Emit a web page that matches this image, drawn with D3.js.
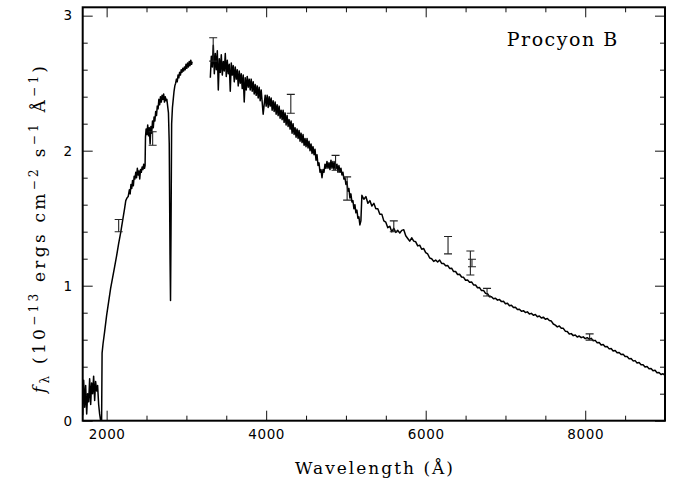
<!DOCTYPE html>
<html><head><meta charset="utf-8">
<script src="https://cdn.jsdelivr.net/npm/d3@7/dist/d3.min.js"></script>
<style>
html,body{margin:0;padding:0;background:#fff;}
svg{display:block;}
</style></head>
<body>
<svg id="chart" width="675" height="487"></svg>
<script>
// ---- data ----
// UV segment: [wavelength (Å), flux]
const uvSpectrum = [
[1700,0.04],[1712,0.30],[1725,0.10],[1737,0.26],[1750,0.05],[1762,0.20],[1775,0.14],[1787,0.31],
[1800,0.12],[1812,0.28],[1825,0.20],[1837,0.33],[1850,0.15],[1862,0.29],[1875,0.22],[1887,0.26],
[1900,0.12],[1912,0.05],[1925,0.00],[1937,0.00],[1943,0.50],[1955,0.57],[1975,0.66],[2000,0.78],
[2025,0.88],[2050,0.98],[2075,1.06],[2100,1.14],[2125,1.22],[2150,1.31],[2175,1.39],[2200,1.48],
[2225,1.57],[2240,1.63],[2255,1.65],[2270,1.66],[2285,1.71],[2295,1.68],[2305,1.75],[2315,1.72],
[2325,1.78],[2335,1.74],[2345,1.81],[2355,1.79],[2365,1.84],[2375,1.80],[2385,1.87],[2395,1.82],
[2405,1.85],[2415,1.79],[2425,1.86],[2435,1.84],[2445,1.88],[2455,1.86],[2465,1.90],[2475,1.87],
[2482,1.89],[2487,2.10],[2495,2.16],[2505,2.12],[2515,2.19],[2525,2.11],[2535,2.17],[2545,2.05],
[2555,2.18],[2565,2.13],[2575,2.22],[2585,2.17],[2595,2.25],[2605,2.22],[2615,2.29],[2625,2.26],
[2635,2.33],[2645,2.31],[2655,2.38],[2665,2.34],[2675,2.40],[2685,2.36],[2695,2.41],[2705,2.38],
[2715,2.42],[2725,2.36],[2735,2.40],[2745,2.37],[2755,2.38],[2765,2.33],[2775,2.28],[2785,2.05],
[2795,1.20],[2801,0.89],[2807,1.40],[2815,2.20],[2825,2.32],[2835,2.38],[2845,2.44],[2855,2.48],
[2865,2.50],[2875,2.53],[2885,2.51],[2895,2.56],[2905,2.54],[2915,2.58],[2925,2.56],[2935,2.60],
[2945,2.58],[2955,2.61],[2965,2.59],[2975,2.62],[2985,2.60],[2995,2.64],[3005,2.61],[3015,2.65],
[3025,2.62],[3035,2.66],[3045,2.63],[3055,2.67],[3065,2.64],[3072,2.66]
];
// Noisy blue/visual segment, sampled every 12.5 Å from 3300 to 5200 Å (one row = 100 Å)
const blueStart = 3300, blueStep = 12.5;
const blueFlux = [
2.54,2.70,2.62,2.78,2.57,2.72,2.60,2.74,
2.45,2.68,2.58,2.71,2.56,2.66,2.59,2.72,
2.55,2.67,2.57,2.64,2.44,2.65,2.56,2.63,
2.51,2.62,2.53,2.60,2.48,2.59,2.50,2.57,
2.46,2.56,2.36,2.54,2.45,2.55,2.47,2.53,
2.45,2.53,2.44,2.51,2.42,2.49,2.41,2.48,
2.39,2.47,2.37,2.45,2.36,2.27,2.34,2.41,
2.33,2.41,2.32,2.40,2.33,2.39,2.30,2.37,
2.29,2.36,2.27,2.34,2.26,2.33,2.24,2.30,
2.23,2.30,2.21,2.28,2.19,2.26,2.18,2.23,
2.16,2.22,2.13,2.20,2.12,2.17,2.10,2.16,
2.09,2.15,2.07,2.13,2.06,2.12,2.04,2.09,
2.03,2.09,2.02,2.07,2.00,2.05,1.98,2.03,
1.97,2.01,1.93,1.97,1.89,1.91,1.84,1.86,
1.80,1.86,1.84,1.90,1.87,1.92,1.87,1.91,
1.86,1.93,1.87,1.92,1.86,1.92,1.87,1.90,
1.84,1.89,1.84,1.87,1.82,1.84,1.79,1.80,
1.75,1.77,1.70,1.72,1.65,1.68,1.62,1.63,
1.57,1.60,1.54,1.56,1.50,1.51,1.45,1.48,
1.67
];
// Red segment: [wavelength (Å), flux]
const redSpectrum = [
[5225,1.64],[5250,1.66],[5275,1.61],
[5300,1.63],[5325,1.59],[5350,1.61],[5375,1.57],[5400,1.57],[5425,1.53],[5450,1.53],[5475,1.48],
[5500,1.47],[5525,1.43],[5550,1.44],[5575,1.40],[5600,1.425],[5625,1.395],[5650,1.41],[5675,1.39],
[5700,1.41],[5725,1.415],[5750,1.37],[5775,1.35],[5800,1.33],[5825,1.355],[5850,1.33],[5875,1.325],
[5900,1.295],[5925,1.30],[5950,1.27],[5975,1.275],[6000,1.245],[6025,1.235],[6050,1.205],[6075,1.20],
[6100,1.18],[6125,1.19],[6150,1.175],[6175,1.19],[6200,1.165],[6225,1.165],[6250,1.148],[6275,1.15],
[6300,1.128],[6325,1.13],[6350,1.105],[6375,1.105],[6400,1.083],[6425,1.085],[6450,1.064],[6475,1.062],
[6500,1.04],[6525,1.042],[6550,1.025],[6575,1.028],[6600,1.006],[6625,1.005],[6650,0.985],[6675,0.986],
[6700,0.964],[6725,0.965],[6750,0.943],[6775,0.94],[6800,0.918],[6825,0.918],[6850,0.903],[6875,0.907],
[6900,0.893],[6925,0.898],[6950,0.882],[6975,0.884],[7000,0.867],[7025,0.87],[7050,0.852],[7075,0.855],
[7100,0.838],[7125,0.84],[7150,0.823],[7175,0.825],[7200,0.81],[7225,0.815],[7250,0.801],[7275,0.806],
[7300,0.79],[7325,0.795],[7350,0.781],[7375,0.786],[7400,0.77],[7425,0.776],[7450,0.761],[7475,0.767],
[7500,0.752],[7525,0.757],[7550,0.742],[7575,0.738],[7600,0.716],[7625,0.708],[7650,0.695],[7675,0.701],
[7700,0.685],[7725,0.684],[7750,0.663],[7775,0.66],[7800,0.642],[7825,0.645],[7850,0.63],[7875,0.635],
[7900,0.62],[7925,0.627],[7950,0.615],[7975,0.621],[8000,0.608],[8025,0.615],[8050,0.605],[8075,0.61],
[8100,0.593],[8125,0.595],[8150,0.577],[8175,0.579],[8200,0.561],[8225,0.565],[8250,0.547],[8275,0.549],
[8300,0.532],[8325,0.535],[8350,0.517],[8375,0.52],[8400,0.503],[8425,0.505],[8450,0.49],[8475,0.493],
[8500,0.475],[8525,0.475],[8550,0.458],[8575,0.461],[8600,0.443],[8625,0.445],[8650,0.428],[8675,0.431],
[8700,0.414],[8725,0.415],[8750,0.398],[8775,0.401],[8800,0.385],[8825,0.387],[8850,0.37],[8875,0.373],
[8900,0.355],[8925,0.357],[8950,0.342],[8975,0.348],[9000,0.336]
];
const errWave  = [2151, 2577, 3336, 4309, 4870, 5015, 5600, 6280, 6560, 6580, 6769, 8055];
const errFlux  = [1.445, 2.09, 2.75, 2.347, 1.91, 1.72, 1.44, 1.30, 1.168, 1.168, 0.952, 0.62];
const errSigma = [0.045, 0.05, 0.087, 0.07, 0.055, 0.086, 0.04, 0.064, 0.089, 0.028, 0.028, 0.023];

const xMajorTicks = [2000, 4000, 6000, 8000];
const xMinorTicks = [2500, 3000, 3500, 4500, 5000, 5500, 6500, 7000, 7500, 8500];
const yMajorTicks = [0, 1, 2, 3];
const yMinorTicks = [0.2, 0.4, 0.6, 0.8, 1.2, 1.4, 1.6, 1.8, 2.2, 2.4, 2.6, 2.8];
const xDomain = [1700, 9000];
const yDomain = [0, 3.062];
const objectName = "Procyon B";

// ---- layout ----
const L = 82.7, R = 665, T = 7.3, B = 420.7;
const svg = d3.select("#chart");
const x = d3.scaleLinear().domain(xDomain).range([L, R]);
const y = d3.scaleLinear().domain(yDomain).range([B, T]);

svg.append("defs").append("clipPath").attr("id","clip")
  .append("rect").attr("x",L).attr("y",T).attr("width",R-L).attr("height",B-T);

const tickFont = "'DejaVu Sans', sans-serif";
function styleAxis(g){
  g.select(".domain").remove();
  g.selectAll(".tick line").attr("stroke","#111").attr("stroke-width",1);
  g.selectAll(".tick text").attr("font-family",tickFont).attr("font-size",13.5)
    .attr("fill","#000").attr("letter-spacing","0.6px");
}
// bottom
svg.append("g").attr("transform",`translate(0,${B})`)
  .call(d3.axisBottom(x).tickValues(xMajorTicks).tickSize(-10).tickPadding(9).tickFormat(d3.format("d"))).call(styleAxis);
svg.append("g").attr("transform",`translate(0,${B})`)
  .call(d3.axisBottom(x).tickValues(xMinorTicks).tickSize(-5).tickFormat("")).call(styleAxis);
// top
svg.append("g").attr("transform",`translate(0,${T})`)
  .call(d3.axisTop(x).tickValues(xMajorTicks).tickSize(-10).tickFormat("")).call(styleAxis);
svg.append("g").attr("transform",`translate(0,${T})`)
  .call(d3.axisTop(x).tickValues(xMinorTicks).tickSize(-5).tickFormat("")).call(styleAxis);
// left
svg.append("g").attr("transform",`translate(${L},0)`)
  .call(d3.axisLeft(y).tickValues(yMajorTicks).tickSize(-10).tickPadding(10).tickFormat(d3.format("d"))).call(styleAxis);
svg.append("g").attr("transform",`translate(${L},0)`)
  .call(d3.axisLeft(y).tickValues(yMinorTicks).tickSize(-5).tickFormat("")).call(styleAxis);
// right
svg.append("g").attr("transform",`translate(${R},0)`)
  .call(d3.axisRight(y).tickValues(yMajorTicks).tickSize(-10).tickFormat("")).call(styleAxis);
svg.append("g").attr("transform",`translate(${R},0)`)
  .call(d3.axisRight(y).tickValues(yMinorTicks).tickSize(-5).tickFormat("")).call(styleAxis);

// frame
svg.append("rect").attr("x",L).attr("y",T).attr("width",R-L).attr("height",B-T)
  .attr("fill","none").attr("stroke","#000").attr("stroke-width",2);

// spectrum
const blueSpectrum = blueFlux.map((f,i)=>[blueStart + i*blueStep, f]);
const optSpectrum = blueSpectrum.concat(redSpectrum);
const line = d3.line().x(d=>x(d[0])).y(d=>y(d[1]));
const plot = svg.append("g").attr("clip-path","url(#clip)");
[uvSpectrum, optSpectrum].forEach(seg=>{
  plot.append("path").datum(seg).attr("d",line).attr("fill","none")
    .attr("stroke","#000").attr("stroke-width",1.5).attr("stroke-linejoin","round");
});

// error bars
const errData = errWave.map((w,i)=>({w, f:errFlux[i], s:errSigma[i]}));
const eb = plot.append("g").attr("stroke","#222").attr("stroke-width",1.1);
errData.forEach(d=>{
  const cx = x(d.w), y0 = y(d.f - d.s), y1 = y(d.f + d.s);
  eb.append("line").attr("x1",cx).attr("x2",cx).attr("y1",y0).attr("y2",y1);
  eb.append("line").attr("x1",cx-4).attr("x2",cx+4).attr("y1",y0).attr("y2",y0);
  eb.append("line").attr("x1",cx-4).attr("x2",cx+4).attr("y1",y1).attr("y2",y1);
});

// labels
const serif = "'DejaVu Serif', 'Liberation Serif', serif";
svg.append("text").attr("x",374).attr("y",474).attr("text-anchor","middle")
  .attr("font-family",serif).attr("font-size",17).attr("textLength",158).attr("lengthAdjust","spacing")
  .text("Wavelength (Å)");

svg.append("text").attr("x",506.7).attr("y",46)
  .attr("font-family",serif).attr("font-size",19).attr("textLength",110.6).attr("lengthAdjust","spacing")
  .text(objectName);

const yl = svg.append("text").attr("transform","translate(45,393) rotate(-90)")
  .attr("font-family",serif).attr("font-size",17).attr("textLength",327).attr("lengthAdjust","spacing");
yl.append("tspan").attr("font-style","italic").text("f");
yl.append("tspan").attr("font-size",12).attr("dy",4).text("λ");
yl.append("tspan").attr("dy",-4).text(" (10");
yl.append("tspan").attr("font-size",12).attr("dy",-7).text("−13");
yl.append("tspan").attr("dy",7).text(" ergs cm");
yl.append("tspan").attr("font-size",12).attr("dy",-7).text("−2");
yl.append("tspan").attr("dy",7).text(" s");
yl.append("tspan").attr("font-size",12).attr("dy",-7).text("−1");
yl.append("tspan").attr("dy",7).text(" Å");
yl.append("tspan").attr("font-size",12).attr("dy",-7).text("−1");
yl.append("tspan").attr("dy",7).text(")");
</script>
</body></html>
